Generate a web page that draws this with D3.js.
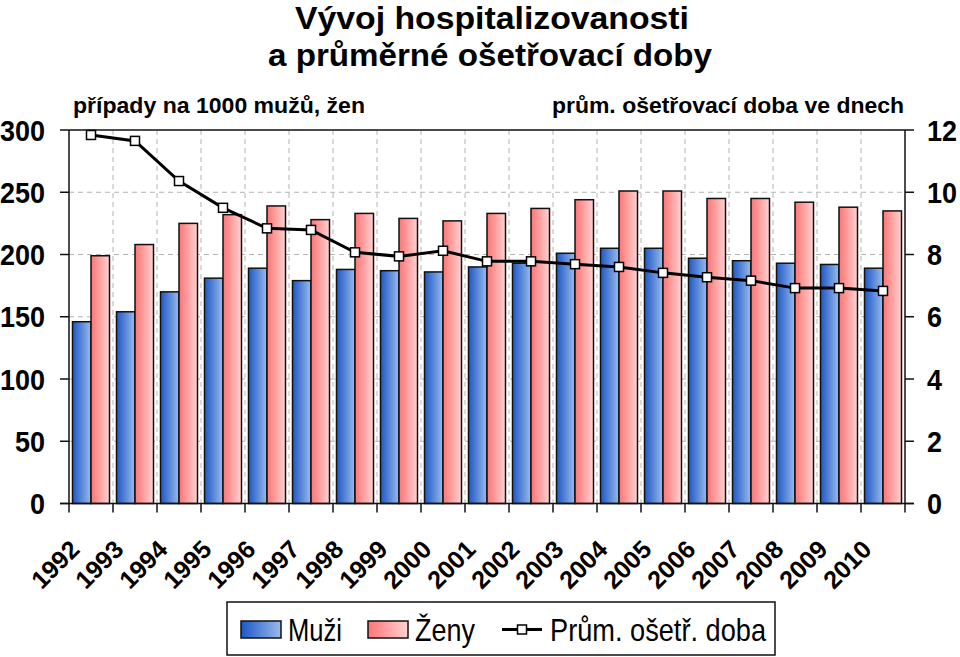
<!DOCTYPE html>
<html><head><meta charset="utf-8">
<script src="https://cdn.jsdelivr.net/npm/d3@7"></script>
<style>body{margin:0;background:#fff}svg{display:block}text{font-family:"Liberation Sans",Arial,sans-serif}</style>
</head><body><svg id="c" width="960" height="657"></svg>
<script>
const years = ["1992","1993","1994","1995","1996","1997","1998","1999","2000","2001","2002","2003","2004","2005","2006","2007","2008","2009","2010"];
const muzi  = [146,154,170,181,189,179,188,187,186,190,193,201,205,205,197,195,193,192,189];
const zeny  = [199,208,225,232,239,228,233,229,227,233,237,244,251,251,245,245,242,238,235];
const doba  = [11.84,11.65,10.36,9.50,8.84,8.79,8.07,7.94,8.12,7.78,7.78,7.69,7.60,7.41,7.27,7.16,6.92,6.92,6.83];
const leftTicks = [0,50,100,150,200,250,300];
const rightTicks = [0,2,4,6,8,10,12];
const seriesNames = ["Muži","Ženy","Prům. ošetř. doba"];
const titleLines = ["Vývoj hospitalizovanosti","a průměrné ošetřovací doby"];
const leftTitle = "případy na 1000 mužů, žen";
const rightTitle = "prům. ošetřovací doba ve dnech";

const svg = d3.select("#c");
const L=69, R=905, T=130, B=503.5;
const K=1.12; // vertical glyph stretch seen in the reference
const x = d3.scaleBand().domain(years).range([L,R]).padding(0);
const xs = d3.scaleBand().domain([0,1]).range([0,x.bandwidth()]).paddingInner(0).paddingOuter(0.189);
const y = d3.scaleLinear().domain([0,300]).range([B,T]);
const y2 = d3.scaleLinear().domain([0,12]).range([B,T]);

const defs = svg.append("defs");
function grad(id,c1,c2){const g=defs.append("linearGradient").attr("id",id).attr("x1","0").attr("x2","1").attr("y1","0").attr("y2","0");
 g.append("stop").attr("offset","0").attr("stop-color",c1);g.append("stop").attr("offset","1").attr("stop-color",c2);}
grad("gb","#1c57c6","#9abbea");
grad("gp","#ff7474","#ffd2d2");

function txt(parent,s,x0,yb,size,opts={}){
  const t=parent.append("text").attr("transform",`translate(${x0},${yb}) scale(1,${opts.k||K})`)
   .attr("font-size",size).attr("font-weight",opts.weight||"normal").attr("text-anchor",opts.anchor||"start").text(s);
  if(opts.len) t.attr("textLength",opts.len).attr("lengthAdjust","spacingAndGlyphs");
  return t;
}
txt(svg,titleLines[0],295,29,29,{weight:"bold",len:394,k:1.1});
txt(svg,titleLines[1],268,66,29,{weight:"bold",len:444,k:1.1});
txt(svg,leftTitle,73,113,20,{weight:"bold",len:292});
txt(svg,rightTitle,552,113,20,{weight:"bold",len:352});

// gridlines
const grid = svg.append("g").attr("stroke","#b4b4b4").attr("stroke-dasharray","5,4").attr("stroke-width",1);
grid.selectAll("line.h").data(leftTicks.filter(d=>d>0&&d<300)).join("line")
  .attr("x1",L).attr("x2",R).attr("y1",d=>y(d)).attr("y2",d=>y(d));
grid.selectAll("line.v").data(years.slice(1)).join("line")
  .attr("x1",d=>x(d)).attr("x2",d=>x(d)).attr("y1",T).attr("y2",B);

// bars
const g = svg.append("g");
years.forEach((yr,i)=>{
  [[muzi[i],"url(#gb)",0],[zeny[i],"url(#gp)",1]].forEach(([v,f,k])=>{
    g.append("rect").attr("x",x(yr)+xs(k)).attr("width",xs.bandwidth()).attr("y",y(v)).attr("height",B-y(v))
     .attr("fill",f).attr("stroke","#111").attr("stroke-width",1.5);
  });
});

// axes
const ax = svg.append("g").attr("stroke","#111").attr("stroke-width",1.5);
ax.append("line").attr("x1",L).attr("x2",L).attr("y1",T).attr("y2",B);
ax.append("line").attr("x1",R).attr("x2",R).attr("y1",T).attr("y2",B);
ax.append("line").attr("x1",L).attr("x2",R).attr("y1",T).attr("y2",T);
ax.append("line").attr("x1",L-9).attr("x2",R+9).attr("y1",B).attr("y2",B);
ax.selectAll("line.lt").data(leftTicks).join("line").attr("x1",L-9).attr("x2",L).attr("y1",d=>y(d)).attr("y2",d=>y(d));
ax.selectAll("line.rt").data(rightTicks).join("line").attr("x1",R).attr("x2",R+9).attr("y1",d=>y2(d)).attr("y2",d=>y2(d));
ax.selectAll("line.bt").data(years.concat(["end"])).join("line")
  .attr("x1",(d,i)=>L+i*x.step()).attr("x2",(d,i)=>L+i*x.step()).attr("y1",B).attr("y2",B+9);

const gl = svg.append("g"); leftTicks.forEach(d=>txt(gl,d,45,y(d)+10.5,27,{weight:"bold",anchor:"end"}));
const gr = svg.append("g"); rightTicks.forEach(d=>txt(gr,d,927,y2(d)+10.5,27,{weight:"bold"}));
svg.append("g").selectAll("text").data(years).join("text")
  .attr("transform",d=>`translate(${x(d)+x.bandwidth()/2-10},551) rotate(-45)`)
  .attr("text-anchor","end").attr("font-size",25).attr("font-weight","bold").text(d=>d);

// line
const line = d3.line().x((d,i)=>x(years[i])+x.bandwidth()/2).y(d=>y2(d));
svg.append("path").datum(doba).attr("d",line).attr("fill","none").attr("stroke","#000").attr("stroke-width",3);
svg.append("g").selectAll("rect").data(doba).join("rect")
  .attr("x",(d,i)=>x(years[i])+x.bandwidth()/2-4.5).attr("y",d=>y2(d)-4.5).attr("width",9).attr("height",9)
  .attr("fill","#fff").attr("stroke","#000").attr("stroke-width",1.5);

// legend
const lg = svg.append("g");
lg.append("rect").attr("x",227).attr("y",602).attr("width",548).attr("height",53).attr("fill","#fff").attr("stroke","#111").attr("stroke-width",1.5);
lg.append("rect").attr("x",241).attr("y",621).attr("width",40).attr("height",17).attr("fill","url(#gb)").attr("stroke","#111").attr("stroke-width",1.5);
txt(lg,seriesNames[0],288,641,28,{len:54});
lg.append("rect").attr("x",368).attr("y",621).attr("width",40).attr("height",17).attr("fill","url(#gp)").attr("stroke","#111").attr("stroke-width",1.5);
txt(lg,seriesNames[1],415,641,28,{len:60});
lg.append("line").attr("x1",502).attr("x2",542).attr("y1",629.5).attr("y2",629.5).attr("stroke","#000").attr("stroke-width",3);
lg.append("rect").attr("x",517.5).attr("y",625).attr("width",9).attr("height",9).attr("fill","#fff").attr("stroke","#000").attr("stroke-width",1.5);
txt(lg,seriesNames[2],550,641,28,{len:216});
</script></body></html>
